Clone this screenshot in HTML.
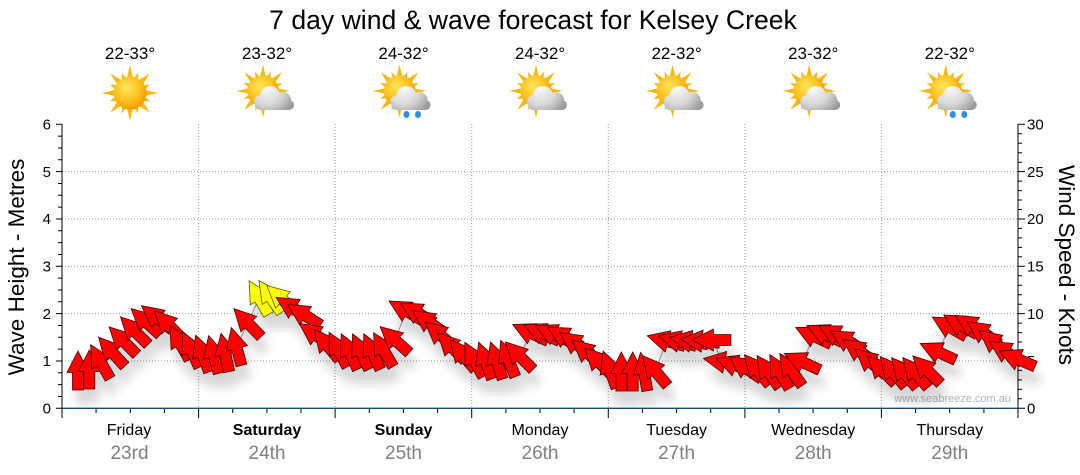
<!DOCTYPE html>
<html><head><meta charset="utf-8"><style>
html,body{margin:0;padding:0;background:#fff;}
svg{display:block;}
text{font-family:"Liberation Sans",Arial,sans-serif;}
</style></head><body>
<svg width="1080" height="475" viewBox="0 0 1080 475" xmlns="http://www.w3.org/2000/svg">
<defs>
<path id="ar" d="M0,-20 L11,1.5 L5.5,1.5 L5.5,19 L-5.5,19 L-5.5,1.5 L-11,1.5 Z"/>
<radialGradient id="sunG" cx="0.4" cy="0.35" r="0.7"><stop offset="0" stop-color="#ffe65a"/><stop offset="0.6" stop-color="#fbbf1a"/><stop offset="1" stop-color="#f29200"/></radialGradient>
<radialGradient id="clG" gradientUnits="userSpaceOnUse" cx="-7" cy="-10" r="30"><stop offset="0" stop-color="#fbfbfb"/><stop offset="0.55" stop-color="#d8d8d8"/><stop offset="1" stop-color="#9a9a9a"/></radialGradient>
<polygon id="rl" points="0,-28 3.2,-14 -3.2,-14"/>
<polygon id="rs" points="0,-22 2.6,-14 -2.6,-14"/>
<g id="sun">
<g fill="#f8b80e">
<use href="#rl"/><use href="#rl" transform="rotate(45)"/><use href="#rl" transform="rotate(90)"/><use href="#rl" transform="rotate(135)"/><use href="#rl" transform="rotate(180)"/><use href="#rl" transform="rotate(225)"/><use href="#rl" transform="rotate(270)"/><use href="#rl" transform="rotate(315)"/>
<use href="#rs" transform="rotate(22.5)"/><use href="#rs" transform="rotate(67.5)"/><use href="#rs" transform="rotate(112.5)"/><use href="#rs" transform="rotate(157.5)"/><use href="#rs" transform="rotate(202.5)"/><use href="#rs" transform="rotate(247.5)"/><use href="#rs" transform="rotate(292.5)"/><use href="#rs" transform="rotate(337.5)"/>
</g>
<circle r="16.5" fill="url(#sunG)"/>
</g>
<g id="cloud" fill="url(#clG)">
<circle cx="-4" cy="-2" r="10"/><circle cx="9" cy="2" r="8"/><circle cx="-13" cy="4" r="7"/><rect x="-19" y="2" width="39" height="10" rx="5"/>
</g>
<g id="rain" fill="#2a90e2">
<ellipse cx="-4" cy="16.5" rx="3" ry="3.5"/><ellipse cx="7.5" cy="16.5" rx="3" ry="3.5"/>
</g>
<filter id="sh" filterUnits="userSpaceOnUse" x="0" y="200" width="1080" height="275">
<feGaussianBlur in="SourceAlpha" stdDeviation="5"/>
<feOffset dx="4" dy="14"/>
<feComponentTransfer><feFuncA type="linear" slope="0.16"/></feComponentTransfer>
<feMerge><feMergeNode/><feMergeNode in="SourceGraphic"/></feMerge>
</filter>
</defs>

<rect width="1080" height="475" fill="#fff"/>

<text x="533" y="29" font-size="26.6" text-anchor="middle" fill="#000">7 day wind &amp; wave forecast for Kelsey Creek</text>

<g font-size="17" text-anchor="middle" fill="#000">
<text x="130" y="59">22-33°</text>
<text x="267" y="59">23-32°</text>
<text x="403.5" y="59">24-32°</text>
<text x="540" y="59">24-32°</text>
<text x="676.6" y="59">22-32°</text>
<text x="813.2" y="59">23-32°</text>
<text x="949.8" y="59">22-32°</text>
</g>

<use href="#sun" transform="translate(130,93)"/>
<use href="#sun" transform="translate(263,91) scale(0.95)"/><use href="#cloud" transform="translate(274,98)"/>
<use href="#sun" transform="translate(399.5,91) scale(0.95)"/><use href="#cloud" transform="translate(410.5,98)"/><use href="#rain" transform="translate(410.5,98)"/>
<use href="#sun" transform="translate(536,91) scale(0.95)"/><use href="#cloud" transform="translate(547,98)"/>
<use href="#sun" transform="translate(672.6,91) scale(0.95)"/><use href="#cloud" transform="translate(683.6,98)"/>
<use href="#sun" transform="translate(809.2,91) scale(0.95)"/><use href="#cloud" transform="translate(820.2,98)"/>
<use href="#sun" transform="translate(945.8,91) scale(0.95)"/><use href="#cloud" transform="translate(956.8,98)"/><use href="#rain" transform="translate(956.8,98)"/>

<path d="M62,361H1018M62,313.6H1018M62,266.3H1018M62,219H1018M62,171.6H1018M198.6,124V408M335.1,124V408M471.7,124V408M608.3,124V408M744.9,124V408M881.4,124V408" stroke="#9a9a9a" stroke-width="1" stroke-dasharray="1,2" fill="none"/>

<text x="1011" y="402" font-size="11" text-anchor="end" fill="#b4b4b4">www.seabreeze.com.au</text>

<path d="M62,124.3V408.3M1018,124.3V408.3" stroke="#000" stroke-width="1"/>
<path d="M56,408.3H62M58,396.5H62M58,384.6H62M58,372.8H62M56,361H62M58,349.1H62M58,337.3H62M58,325.5H62M56,313.6H62M58,301.8H62M58,290H62M58,278.1H62M56,266.3H62M58,254.5H62M58,242.6H62M58,230.8H62M56,219H62M58,207.1H62M58,195.3H62M58,183.5H62M56,171.6H62M58,159.8H62M58,148H62M58,136.1H62M56,124.3H62" stroke="#000" stroke-width="1"/>
<path d="M1018,408.3H1025M1018,398.8H1022M1018,389.4H1022M1018,379.9H1022M1018,370.4H1022M1018,361H1025M1018,351.5H1022M1018,342H1022M1018,332.6H1022M1018,323.1H1022M1018,313.6H1025M1018,304.2H1022M1018,294.7H1022M1018,285.2H1022M1018,275.8H1022M1018,266.3H1025M1018,256.8H1022M1018,247.4H1022M1018,237.9H1022M1018,228.4H1022M1018,219H1025M1018,209.5H1022M1018,200H1022M1018,190.6H1022M1018,181.1H1022M1018,171.6H1025M1018,162.2H1022M1018,152.7H1022M1018,143.2H1022M1018,133.8H1022M1018,124.3H1025" stroke="#000" stroke-width="1"/>
<path d="M62,408.3V418M96.1,408.3V413M130.3,408.3V413M164.4,408.3V413M198.6,408.3V418M232.7,408.3V413M266.9,408.3V413M301,408.3V413M335.1,408.3V418M369.3,408.3V413M403.4,408.3V413M437.6,408.3V413M471.7,408.3V418M505.9,408.3V413M540,408.3V413M574.1,408.3V413M608.3,408.3V418M642.4,408.3V413M676.6,408.3V413M710.7,408.3V413M744.9,408.3V418M779,408.3V413M813.1,408.3V413M847.3,408.3V413M881.4,408.3V418M915.6,408.3V413M949.7,408.3V413M983.9,408.3V413M1018,408.3V418" stroke="#000" stroke-width="1"/>
<path d="M62,408.3H1018" stroke="#1d4a72" stroke-width="1.3"/>

<g font-size="15" fill="#000" text-anchor="end">
<text x="51" y="413.5">0</text><text x="51" y="366">1</text><text x="51" y="318.8">2</text><text x="51" y="271.5">3</text><text x="51" y="224.2">4</text><text x="51" y="176.8">5</text><text x="51" y="129.5">6</text>
</g>
<g font-size="15" fill="#000" text-anchor="start">
<text x="1027" y="413.5">0</text><text x="1027" y="366">5</text><text x="1027" y="318.8">10</text><text x="1027" y="271.5">15</text><text x="1027" y="224.2">20</text><text x="1027" y="176.8">25</text><text x="1027" y="129.5">30</text>
</g>
<text transform="translate(24,267) rotate(-90)" font-size="22.5" text-anchor="middle" fill="#000">Wave Height - Metres</text>
<text transform="translate(1059,265) rotate(90)" font-size="22.5" text-anchor="middle" fill="#000">Wind Speed - Knots</text>

<g font-size="16" text-anchor="middle" fill="#000">
<text x="129" y="435">Friday</text>
<text x="267" y="435" font-weight="bold">Saturday</text>
<text x="403.5" y="435" font-weight="bold">Sunday</text>
<text x="540" y="435">Monday</text>
<text x="676.6" y="435">Tuesday</text>
<text x="813.2" y="435">Wednesday</text>
<text x="949.8" y="435">Thursday</text>
</g>
<g font-size="19" text-anchor="middle" fill="#808080">
<text x="129.5" y="459">23rd</text>
<text x="267" y="459">24th</text>
<text x="403.5" y="459">25th</text>
<text x="540" y="459">26th</text>
<text x="676.6" y="459">27th</text>
<text x="813.2" y="459">28th</text>
<text x="949.8" y="459">29th</text>
</g>

<polyline fill="none" stroke="#999" stroke-width="1" points="78,371 89.3,370 100.6,362 112,352 123.3,341 134.6,331 145.9,322 157.2,318 168.6,325 179.9,343 191.2,350 202.5,354 213.8,355 225.2,353 236.5,347 247.8,323 259.1,298 270.4,297 281.8,299 293.1,308 304.4,315 315.7,335 327,345 338.4,350 349.7,352 361,352 372.3,352 383.6,350 395,340 406.3,311 417.6,313 428.9,322 440.2,335 451.6,347 462.9,355 474.2,360 485.5,361 496.8,361 508.2,359 519.5,356 530.8,333 542.1,333 553.4,334 564.8,337 576.1,344 587.4,353 598.7,362 610,370 621.4,372 632.7,372 644,372 655.3,371 666.6,341 678,341 689.3,341 700.6,341 711.9,340 723.2,362 734.6,365 745.9,368 757.2,370 768.5,372 779.8,372 791.2,370 802.5,362 813.8,336 825.1,334 836.4,335 847.8,341 859.1,351 870.4,362 881.7,370 893,372 904.4,373 915.7,373 927,370 938.3,352 949.6,327 961,325 972.3,326 983.6,333 994.9,343 1006.2,352 1017.6,359"/>

<g filter="url(#sh)" fill="#ff0000" stroke="#4a0000" stroke-width="0.8" stroke-linejoin="miter">
<use href="#ar" transform="translate(78,371) rotate(0)"/>
<use href="#ar" transform="translate(89.3,370) rotate(0)"/>
<use href="#ar" transform="translate(100.6,362) rotate(-30)"/>
<use href="#ar" transform="translate(112,352) rotate(-42)"/>
<use href="#ar" transform="translate(123.3,341) rotate(-45)"/>
<use href="#ar" transform="translate(134.6,331) rotate(-45)"/>
<use href="#ar" transform="translate(145.9,322) rotate(-48)"/>
<use href="#ar" transform="translate(157.2,318) rotate(-52)"/>
<use href="#ar" transform="translate(168.6,325) rotate(-45)"/>
<use href="#ar" transform="translate(179.9,343) rotate(-30)"/>
<use href="#ar" transform="translate(191.2,350) rotate(-25)"/>
<use href="#ar" transform="translate(202.5,354) rotate(-20)"/>
<use href="#ar" transform="translate(213.8,355) rotate(-15)"/>
<use href="#ar" transform="translate(225.2,353) rotate(-12)"/>
<use href="#ar" transform="translate(236.5,347) rotate(-15)"/>
<use href="#ar" transform="translate(247.8,323) rotate(-44)"/>
<use href="#ar" transform="translate(259.1,298) rotate(-30)" fill="#ffff00" stroke="#5a5a00"/>
<use href="#ar" transform="translate(270.4,297) rotate(-35)" fill="#ffff00" stroke="#5a5a00"/>
<use href="#ar" transform="translate(281.8,299) rotate(-48)" fill="#ffff00" stroke="#5a5a00"/>
<use href="#ar" transform="translate(293.1,308) rotate(-58)"/>
<use href="#ar" transform="translate(304.4,315) rotate(-58)"/>
<use href="#ar" transform="translate(315.7,335) rotate(-55)"/>
<use href="#ar" transform="translate(327,345) rotate(-40)"/>
<use href="#ar" transform="translate(338.4,350) rotate(-28)"/>
<use href="#ar" transform="translate(349.7,352) rotate(-25)"/>
<use href="#ar" transform="translate(361,352) rotate(-25)"/>
<use href="#ar" transform="translate(372.3,352) rotate(-25)"/>
<use href="#ar" transform="translate(383.6,350) rotate(-30)"/>
<use href="#ar" transform="translate(395,340) rotate(-48)"/>
<use href="#ar" transform="translate(406.3,311) rotate(-60)"/>
<use href="#ar" transform="translate(417.6,313) rotate(-60)"/>
<use href="#ar" transform="translate(428.9,322) rotate(-55)"/>
<use href="#ar" transform="translate(440.2,335) rotate(-50)"/>
<use href="#ar" transform="translate(451.6,347) rotate(-45)"/>
<use href="#ar" transform="translate(462.9,355) rotate(-40)"/>
<use href="#ar" transform="translate(474.2,360) rotate(-28)"/>
<use href="#ar" transform="translate(485.5,361) rotate(-20)"/>
<use href="#ar" transform="translate(496.8,361) rotate(-18)"/>
<use href="#ar" transform="translate(508.2,359) rotate(-22)"/>
<use href="#ar" transform="translate(519.5,356) rotate(-45)"/>
<use href="#ar" transform="translate(530.8,333) rotate(-65)"/>
<use href="#ar" transform="translate(542.1,333) rotate(-65)"/>
<use href="#ar" transform="translate(553.4,334) rotate(-65)"/>
<use href="#ar" transform="translate(564.8,337) rotate(-60)"/>
<use href="#ar" transform="translate(576.1,344) rotate(-55)"/>
<use href="#ar" transform="translate(587.4,353) rotate(-50)"/>
<use href="#ar" transform="translate(598.7,362) rotate(-45)"/>
<use href="#ar" transform="translate(610,370) rotate(-20)"/>
<use href="#ar" transform="translate(621.4,372) rotate(0)"/>
<use href="#ar" transform="translate(632.7,372) rotate(0)"/>
<use href="#ar" transform="translate(644,372) rotate(-10)"/>
<use href="#ar" transform="translate(655.3,371) rotate(-40)"/>
<use href="#ar" transform="translate(666.6,341) rotate(-75)"/>
<use href="#ar" transform="translate(678,341) rotate(-75)"/>
<use href="#ar" transform="translate(689.3,341) rotate(-80)"/>
<use href="#ar" transform="translate(700.6,341) rotate(-85)"/>
<use href="#ar" transform="translate(711.9,340) rotate(-90)"/>
<use href="#ar" transform="translate(723.2,362) rotate(-80)"/>
<use href="#ar" transform="translate(734.6,365) rotate(-70)"/>
<use href="#ar" transform="translate(745.9,368) rotate(-55)"/>
<use href="#ar" transform="translate(757.2,370) rotate(-40)"/>
<use href="#ar" transform="translate(768.5,372) rotate(-35)"/>
<use href="#ar" transform="translate(779.8,372) rotate(-30)"/>
<use href="#ar" transform="translate(791.2,370) rotate(-35)"/>
<use href="#ar" transform="translate(802.5,362) rotate(-65)"/>
<use href="#ar" transform="translate(813.8,336) rotate(-65)"/>
<use href="#ar" transform="translate(825.1,334) rotate(-65)"/>
<use href="#ar" transform="translate(836.4,335) rotate(-62)"/>
<use href="#ar" transform="translate(847.8,341) rotate(-60)"/>
<use href="#ar" transform="translate(859.1,351) rotate(-55)"/>
<use href="#ar" transform="translate(870.4,362) rotate(-50)"/>
<use href="#ar" transform="translate(881.7,370) rotate(-45)"/>
<use href="#ar" transform="translate(893,372) rotate(-40)"/>
<use href="#ar" transform="translate(904.4,373) rotate(-40)"/>
<use href="#ar" transform="translate(915.7,373) rotate(-40)"/>
<use href="#ar" transform="translate(927,370) rotate(-45)"/>
<use href="#ar" transform="translate(938.3,352) rotate(-65)"/>
<use href="#ar" transform="translate(949.6,327) rotate(-60)"/>
<use href="#ar" transform="translate(961,325) rotate(-60)"/>
<use href="#ar" transform="translate(972.3,326) rotate(-58)"/>
<use href="#ar" transform="translate(983.6,333) rotate(-55)"/>
<use href="#ar" transform="translate(994.9,343) rotate(-52)"/>
<use href="#ar" transform="translate(1006.2,352) rotate(-58)"/>
<use href="#ar" transform="translate(1017.6,359) rotate(-67)"/>
</g>
</svg>
</body></html>
